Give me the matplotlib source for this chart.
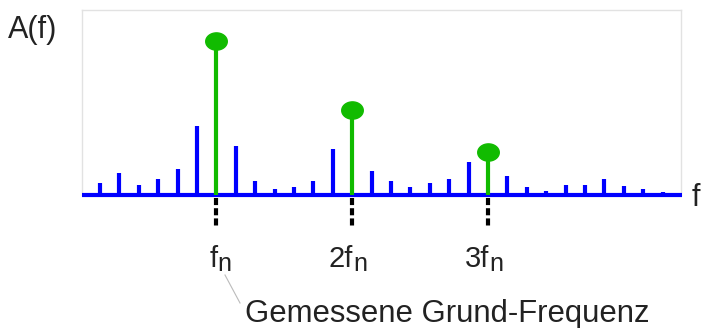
import numpy as np
import matplotlib.pyplot as plt
from matplotlib.path import Path

plt.rcParams['font.family'] = 'Liberation Sans'

# spectrum bins and amplitudes (arbitrary units)
bins = np.arange(30)
amplitude = [12, 22, 10, 16, 26, 69, 154, 49, 14, 6, 8, 14, 46, 85, 24,
             14, 8, 12, 16, 33, 43, 19, 8, 4, 10, 10, 16, 9, 6, 3]
harmonic_bins = [6, 13, 20]
harmonic_labels = ['f', '2f', '3f']

blue = '#0000ff'
green = '#11bb00'
txt = '#222222'

fig = plt.figure(figsize=(7.03, 3.28), dpi=100)
W, H = 703, 328
# axes box in pixels: left 82, right 681, top 10, bottom (baseline) 195
ax = fig.add_axes([82 / W, 1 - 195 / H, (681 - 82) / W, (195 - 10) / H])
ax.set_xlim((82 - 100) / 19.4, (681 - 100) / 19.4)
ax.set_ylim(0, 185)
ax.set_xticks([])
ax.set_yticks([])
for s in ax.spines.values():
    s.set_color('#e2e2e2')
    s.set_linewidth(1.0)

amp = np.array(amplitude, dtype=float)
is_h = np.isin(bins, harmonic_bins)

# baseline
ax.hlines(0, (82 - 100) / 19.4, (682 - 100) / 19.4, color=blue, lw=3, clip_on=False, zorder=3)
# blue side lines
ax.vlines(bins[~is_h], 0, amp[~is_h], color=blue, lw=3, zorder=2)
# green harmonics
ax.vlines(bins[is_h], 0, amp[is_h], color=green, lw=3, zorder=4)
t = np.linspace(0, 2 * np.pi, 60)
ellipse = Path(np.column_stack([1.25 * np.cos(t), np.sin(t)]), closed=True)
ax.plot(bins[is_h], amp[is_h], ls='none', marker=ellipse, ms=15.5,
        color=green, zorder=5, clip_on=False)

# dashed markers below the harmonics
ax.vlines(harmonic_bins, -3, -33, color='black', lw=3,
          linestyles=(0, (1.7, 0.75)), clip_on=False)
for b, lab in zip(harmonic_bins, harmonic_labels):
    ax.text(b + 0.05, -72, lab, ha='right', va='baseline', fontsize=21,
            color=txt, clip_on=False)
    ax.text(b + 0.05, -76, 'n', ha='left', va='baseline', fontsize=18,
            color=txt, clip_on=False)

# axis names
fig.text(8 / W, 1 - 38 / H, 'A(f)', fontsize=22, color=txt, va='baseline')
fig.text(692 / W, 1 - 206 / H, 'f', fontsize=22, color=txt, va='baseline')

# annotation
fig.text(245 / W, 1 - 322 / H, 'Gemessene Grund-Frequenz', fontsize=22.4,
         color=txt, va='baseline')
fig.add_artist(plt.Line2D([225 / W, 240 / W], [1 - 275 / H, 1 - 303 / H],
                          color='#bbbbbb', lw=0.8))

fig.savefig('out.png', dpi=100)
